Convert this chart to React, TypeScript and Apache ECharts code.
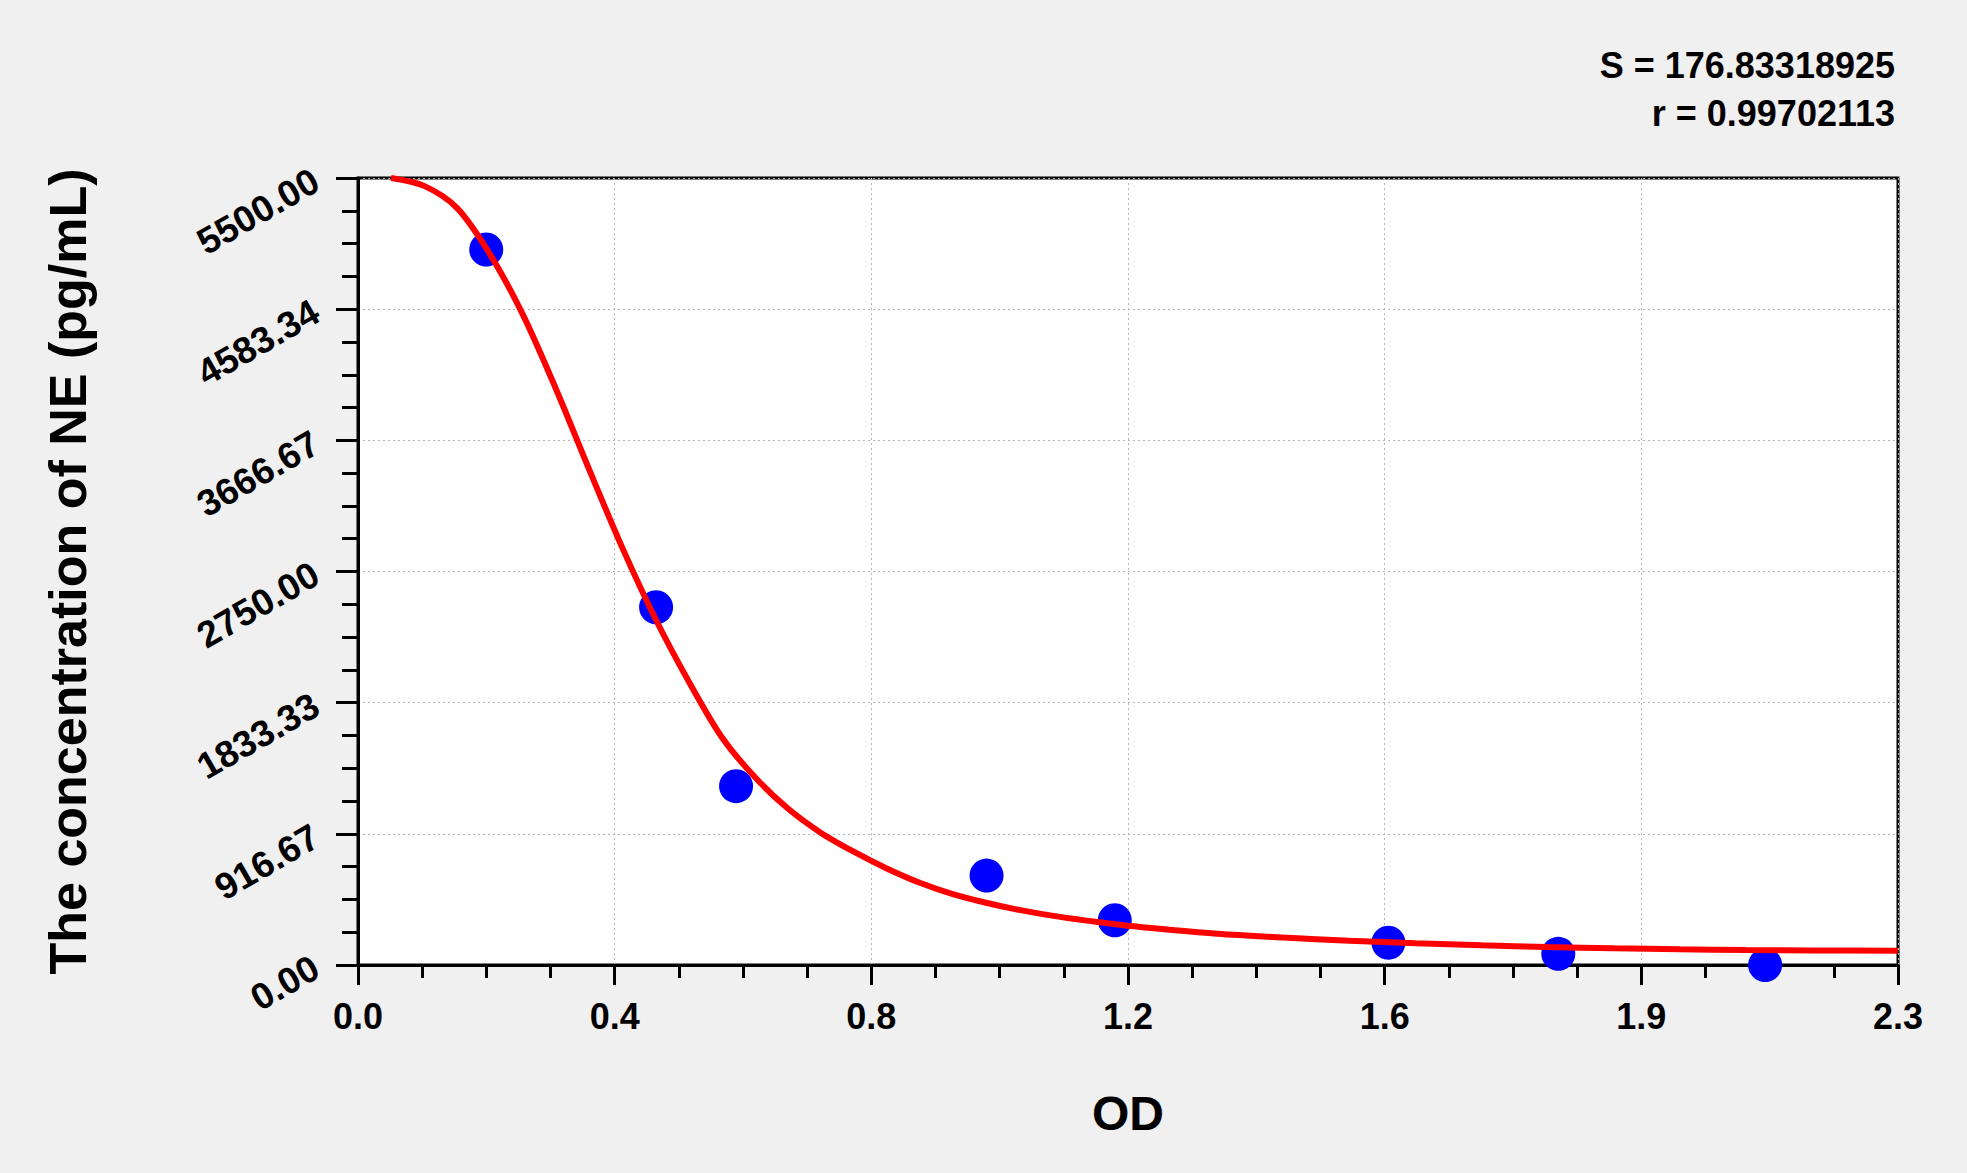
import { useEffect, useRef } from "react";
import * as echarts from "echarts";

// standards: OD vs concentration (pg/mL)
const odValues = [0.194, 0.451, 0.572, 0.951, 1.145, 1.559, 1.816, 2.129];
const concValues = [5000, 2500, 1250, 625, 312.5, 156, 78, 0];

// fitted curve
const curveOd = [
  0.05, 0.1, 0.15, 0.2, 0.25, 0.3, 0.35, 0.4, 0.45, 0.5, 0.55, 0.6, 0.65, 0.7,
  0.75, 0.8, 0.85, 0.9, 0.95, 1.0, 1.05, 1.1, 1.15, 1.2, 1.3, 1.4, 1.5, 1.6,
  1.7, 1.8, 1.9, 2.0, 2.1, 2.2, 2.33,
];
const curveConc = [
  5500, 5445, 5290, 4965, 4540, 4020, 3460, 2915, 2420, 1985, 1595, 1315, 1095,
  925, 792, 675, 575, 495, 435, 385, 345, 312, 283, 258, 218, 192, 170, 152,
  138, 126, 117, 110, 105, 102, 99,
];

const xTickLabels = ["0.0", "0.4", "0.8", "1.2", "1.6", "1.9", "2.3"];
const yTickLabels = [
  "0.00",
  "916.67",
  "1833.33",
  "2750.00",
  "3666.67",
  "4583.34",
  "5500.00",
];
const xMax = 2.33;
const yMax = 5500;

const statLines = ["S = 176.83318925", "r = 0.99702113"];

export default function App() {
  const chartRef = useRef<HTMLDivElement>(null);

  useEffect(() => {
    if (!chartRef.current) return;
    const chart = echarts.init(chartRef.current, undefined, { renderer: "svg" });

    const font = "'Liberation Sans', Arial, sans-serif";
    const xStep = xMax / 6;
    const yStep = yMax / 6;
    const gridLine = { color: "#b4b4b4", width: 1, type: [2, 3] as number[] };

    const option: echarts.EChartsOption = {
      animation: false,
      backgroundColor: "#f0f0f0",
      grid: {
        left: 358,
        top: 178,
        right: 69,
        bottom: 208,
        show: true,
        backgroundColor: "#ffffff",
        borderColor: "#000000",
        borderWidth: 3,
      },
      xAxis: {
        type: "value",
        min: 0,
        max: xMax,
        interval: xStep,
        name: "OD",
        nameLocation: "middle",
        nameGap: 124,
        nameTextStyle: {
          fontFamily: font,
          fontWeight: "bold",
          fontSize: 48,
          color: "#000",
        },
        axisLine: { lineStyle: { color: "#000", width: 3 } },
        axisTick: { length: 20, lineStyle: { color: "#000", width: 3 } },
        minorTick: {
          show: true,
          splitNumber: 4,
          length: 13,
          lineStyle: { color: "#000", width: 3 },
        },
        axisLabel: {
          margin: 33,
          fontFamily: font,
          fontWeight: "bold",
          fontSize: 36,
          color: "#000",
          formatter: (v: number) => xTickLabels[Math.round(v / xStep)] ?? "",
        },
        splitLine: { show: true, lineStyle: gridLine },
      },
      yAxis: {
        type: "value",
        min: 0,
        max: yMax,
        interval: yStep,
        name: "The concentration of NE (pg/mL)",
        nameLocation: "middle",
        nameGap: 264,
        nameTextStyle: {
          fontFamily: font,
          fontWeight: "bold",
          fontSize: 52,
          color: "#000",
        },
        axisLine: { lineStyle: { color: "#000", width: 3 } },
        axisTick: { length: 22, lineStyle: { color: "#000", width: 3 } },
        minorTick: {
          show: true,
          splitNumber: 4,
          length: 16,
          lineStyle: { color: "#000", width: 3 },
        },
        axisLabel: {
          margin: 42,
          rotate: 30,
          fontFamily: font,
          fontWeight: "bold",
          fontSize: 37,
          color: "#000",
          formatter: (v: number) => yTickLabels[Math.round(v / yStep)] ?? "",
        },
        splitLine: { show: true, lineStyle: gridLine },
      },
      graphic: statLines.map((t, i) => ({
        type: "text",
        right: 72,
        top: 47 + i * 48,
        style: {
          text: t,
          fontFamily: font,
          fontWeight: "bold",
          fontSize: 36,
          fill: "#000",
        },
      })),
      series: [
        {
          name: "Standards",
          type: "scatter",
          data: odValues.map((x, i) => [x, concValues[i]]),
          symbol: "circle",
          symbolSize: 34,
          clip: false,
          itemStyle: { color: "#0000ff", opacity: 1 },
          z: 2,
        },
        {
          name: "Fit",
          type: "line",
          data: curveOd.map((x, i) => [x, curveConc[i]]),
          smooth: 0.3,
          symbol: "none",
          lineStyle: { color: "#ff0000", width: 6 },
          z: 3,
        },
      ],
    };

    chart.setOption(option);

    return () => {
      chart.dispose();
    };
  }, []);

  return (
    <div
      ref={chartRef}
      style={{
        position: "fixed",
        left: 0,
        top: 0,
        width: "1967px",
        height: "1173px",
        background: "#f0f0f0",
      }}
    />
  );
}
